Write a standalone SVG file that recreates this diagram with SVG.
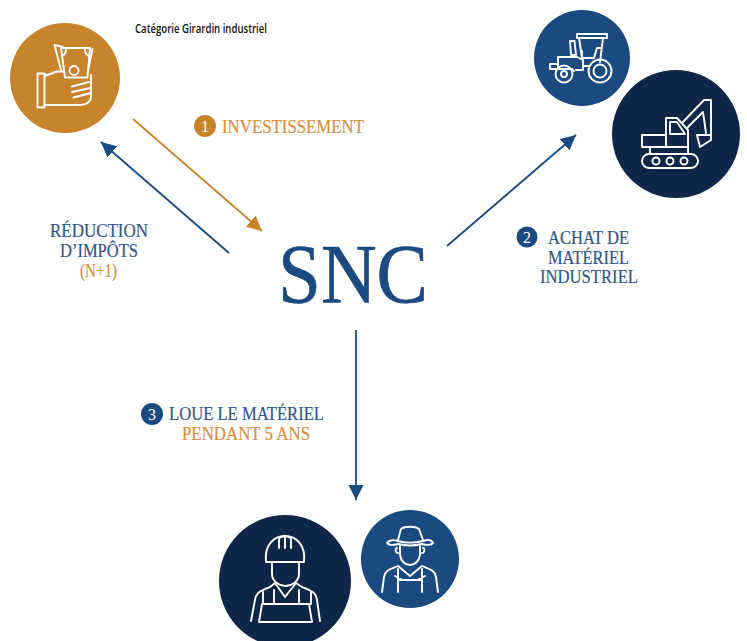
<svg xmlns="http://www.w3.org/2000/svg" width="747" height="641" viewBox="0 0 747 641">
<defs>
<marker id="ao" markerUnits="userSpaceOnUse" markerWidth="18" markerHeight="18" refX="15" refY="8" orient="auto"><path d="M0 0.500L15 8L0 15.500Z" fill="#C8842B"/></marker>
<marker id="ab" markerUnits="userSpaceOnUse" markerWidth="18" markerHeight="18" refX="15" refY="8" orient="auto"><path d="M0 0.500L15 8L0 15.500Z" fill="#1A4A80"/></marker>
</defs>
<style>
.t{font-family:"Liberation Serif","Times New Roman",serif;font-size:18px;fill:#2F5688;stroke:#2F5688;stroke-width:.2}
.o{fill:#D98F3C;stroke:#D98F3C}
.i{fill:none;stroke:#fff;stroke-width:1.9;stroke-linejoin:round;stroke-linecap:round}
.n{font-family:"Liberation Serif",serif;font-size:16px;fill:#fff;text-anchor:middle}
.line{fill:none;stroke-width:1.8}
</style>
<rect width="747" height="641" fill="#fff"/>
<g id="connectors">
<path class="line" stroke="#C8842B" d="M133 119L262 231" marker-end="url(#ao)"/>
<path class="line" stroke="#1A4A80" d="M229 253L101 142" marker-end="url(#ab)"/>
<path class="line" stroke="#1A4A80" d="M447 246L576 135" marker-end="url(#ab)"/>
<path class="line" stroke="#1A4A80" d="M356 330V500" marker-end="url(#ab)"/>
</g>
<g id="node-investor">
<circle cx="65" cy="78" r="55" fill="#C8842B"/>
<g class="i">
<rect x="37.500" y="73.500" width="7" height="34"/>
<path d="M44.500 76L57 71.500H64M44.500 105H78C86 105 91 102 91 96V75"/>
<path d="M61 48H90L87.500 77.500H65Z"/>
<path d="M54.500 45L63 47M54.500 45L61 70M92.500 49L87.500 73"/>
<path d="M62 56C65 55 66 53 66 49M89 56C86 55 85 53 85 49"/>
<circle cx="74" cy="70.500" r="4.500"/>
<path d="M72 86.500L89 82M72 92L90 88M73.500 97.500L91 93"/>
</g>
</g>
<text id="title" x="135" y="33" font-family="'Open Sans','Liberation Sans',sans-serif" font-size="12" font-weight="600" fill="#111" textLength="132" lengthAdjust="spacingAndGlyphs">Catégorie Girardin industriel</text>
<g id="node-tractor">
<circle cx="582" cy="58" r="48" fill="#1A4A80"/>
<g class="i">
<rect x="577" y="34" width="30" height="4"/>
<path d="M579 38L582 58M603 38L600 62"/>
<path d="M570 41H574.500L576 55H571Z"/>
<path d="M582 51V58H594L597 48H601"/>
<path d="M550 64H558V69H550ZM558 64V57H577L583 60V70H576M558 69H572L574 71M583 66H590"/>
<circle cx="600" cy="71" r="11.500"/><circle cx="600" cy="71" r="6.500"/>
<circle cx="564" cy="74" r="8.500"/><circle cx="564" cy="74" r="3"/>
</g>
</g>
<g id="node-excavator">
<circle cx="676" cy="134" r="64" fill="#0F2648"/>
<g class="i">
<rect x="642" y="154" width="56" height="14" rx="7"/>
<circle cx="656" cy="161" r="3.500"/><circle cx="670" cy="161" r="3.500"/><circle cx="684" cy="161" r="3.500"/>
<path d="M650 147V154M688 147V154M642 135H666V147H642ZM650 147H688"/>
<path d="M666 135V118H677L688 130V147"/>
<path d="M670 122H677L685 134H670Z"/>
<path d="M683 122L704 100H711V135M688 127L703 112L706 133"/>
<path d="M697 135H711V140L700 147Z"/>
</g>
</g>
<g id="node-snc">
<text x="278" y="303" font-family="'Liberation Serif',serif" font-size="85" fill="#1A4A80" stroke="#1A4A80" stroke-width=".7" textLength="150" lengthAdjust="spacingAndGlyphs">SNC</text>
</g>
<g id="label-1">
<circle cx="205" cy="126" r="11" fill="#C8842B"/><text class="n" x="205" y="132">1</text>
<text class="t o" x="222" y="133" textLength="142" lengthAdjust="spacingAndGlyphs">INVESTISSEMENT</text>
</g>
<g id="label-reduction">
<text class="t" x="50" y="237" textLength="98" lengthAdjust="spacingAndGlyphs">RÉDUCTION</text>
<text class="t" x="60" y="257" textLength="78" lengthAdjust="spacingAndGlyphs">D’IMPÔTS</text>
<text class="t o" x="80" y="277" textLength="37" lengthAdjust="spacingAndGlyphs">(N+1)</text>
</g>
<g id="label-2">
<circle cx="527" cy="237" r="10.500" fill="#1A4A80"/><text class="n" x="527" y="242.500">2</text>
<text class="t" x="548" y="244" textLength="81" lengthAdjust="spacingAndGlyphs">ACHAT DE</text>
<text class="t" x="548" y="264" textLength="81" lengthAdjust="spacingAndGlyphs">MATÉRIEL</text>
<text class="t" x="540" y="283" textLength="98" lengthAdjust="spacingAndGlyphs">INDUSTRIEL</text>
</g>
<g id="label-3">
<circle cx="152" cy="414" r="11" fill="#1A4A80"/><text class="n" x="152" y="419.500">3</text>
<text class="t" x="169" y="420" textLength="155" lengthAdjust="spacingAndGlyphs">LOUE LE MATÉRIEL</text>
<text class="t o" x="182" y="440" textLength="128" lengthAdjust="spacingAndGlyphs">PENDANT 5 ANS</text>
</g>
<g id="node-worker">
<circle cx="285" cy="581" r="66" fill="#0F2648"/>
<g class="i">
<path d="M266 562C264 545 274 536 285 536C296 536 306 545 304 562Z"/>
<path d="M279 548V540C279 535 291 535 291 540V548M285 537V548"/>
<path d="M272 562V574C272 581 279 586 285.500 586C292 586 299 581 299 574V562"/>
<path d="M251 621L255 600C256 592 262 590 270 587L275 583L285 597L296 583L302 587C310 590 316 592 317 600L320 621"/>
<path d="M263 592V604H311V592M262 604L259 622H312L309 604M274 590V604M299 590V604"/>
</g>
</g>
<g id="node-farmer">
<circle cx="410" cy="559" r="49" fill="#1A4A80"/>
<g class="i">
<path d="M398 540L401 529C405 526 415 526 419 529L423 540"/>
<path d="M387 543C390 539 395 540 398 541C405 543 415 543 423 541C426 540 431 539 433 543C431 546 426 545 422 544C414 546 406 546 398 544C394 545 389 546 387 543Z"/>
<path d="M400 546V555C401 561 405 565 410 565C415 565 419 561 420 555V546"/>
<path d="M397 548C395 548 395 553 398 553M423 548C425 548 425 553 422 553"/>
<path d="M382 592L384 577C385 570 391 569 398 566L410 576L422 566C429 569 435 570 436 577L438 592"/>
<path d="M398 569V592M422 569V592M398 580H422M395 576L401 579M425 576L419 579"/>
</g>
</g>
</svg>
